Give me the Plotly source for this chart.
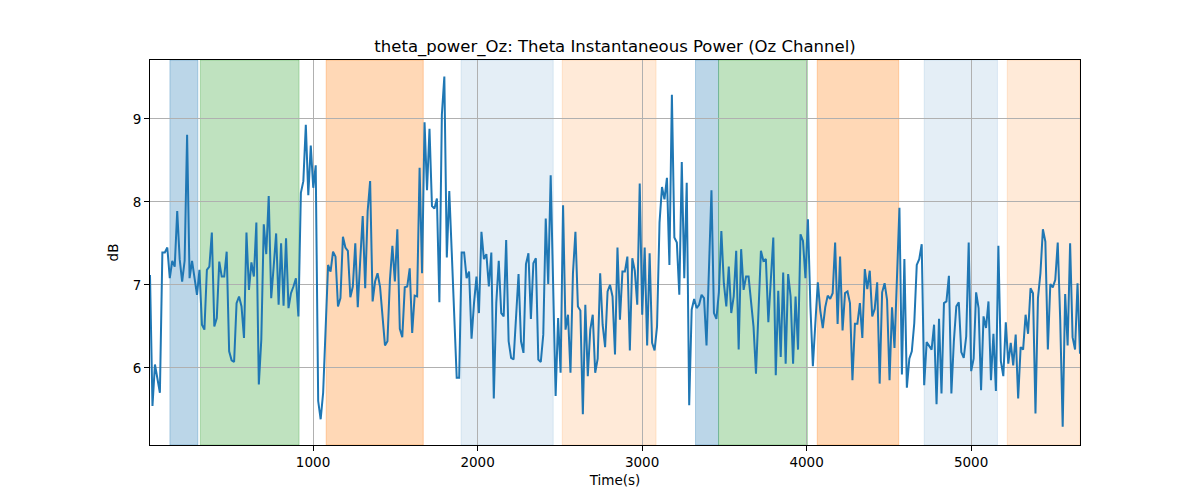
import numpy as np
import plotly.graph_objects as go

title = "theta_power_Oz: Theta Instantaneous Power (Oz Channel)"

t_start, t_end = 9, 5662

power_db = [
    7.12, 5.54, 6.04, 5.86, 5.70, 7.39, 7.39, 7.45, 7.08, 7.29, 7.22, 7.89, 7.31,
    7.04, 7.29, 8.81, 7.08, 7.29, 7.06, 6.88, 7.18, 6.52, 6.46, 7.18, 7.22, 7.63, 6.50, 6.60,
    7.28, 7.10, 7.10, 7.40, 6.20, 6.09, 6.07, 6.78, 6.86, 6.74, 6.36, 7.63, 6.94, 7.27, 7.10, 7.75,
    5.80, 6.34, 7.73, 7.37, 8.07,
    6.84, 7.22, 7.62, 6.76, 7.50, 6.75, 7.56, 6.72, 6.90, 6.98, 7.08, 6.62, 8.11, 8.25, 8.93, 8.08,
    8.68, 8.17, 8.44, 5.60, 5.38, 5.70, 6.50, 7.24, 7.16, 7.40, 7.34, 6.74, 6.84, 7.58, 7.45, 7.41,
    6.85, 6.98, 7.50, 6.73, 7.30, 7.83, 6.96, 7.89, 8.25, 6.80, 7.04, 7.14, 6.98, 6.66, 6.27,
    6.32, 7.06, 7.47, 7.04, 7.67, 6.47, 6.37, 6.97, 6.98, 7.20, 6.42, 6.87, 6.86, 8.41, 7.14, 8.96,
    8.14, 8.88, 7.95, 7.92, 8.04, 6.79, 9.05, 9.51, 7.33, 8.13, 7.39, 6.62, 5.88, 5.88, 7.39, 7.39,
    7.08, 7.16, 6.35, 6.78, 7.10, 6.66, 7.64, 7.31, 7.37, 6.98, 7.39, 5.63, 6.78, 7.29, 6.66,
    6.62, 7.54, 6.32, 6.12, 6.10, 6.66, 7.13, 6.32, 6.18, 7.25, 7.38, 6.59, 7.26, 7.32, 6.10, 6.07,
    6.40, 7.80, 7.01, 8.32, 6.98, 5.66, 6.60, 5.94, 7.96, 6.46, 6.64, 5.94, 7.14, 7.64, 6.74, 6.69,
    5.44, 6.76, 5.90, 6.46, 6.64, 5.94, 6.11, 7.14, 6.52, 6.25, 6.92, 7.00, 6.86, 6.16, 7.45,
    6.58, 7.16, 7.16, 7.34, 6.21, 7.32, 7.17, 6.76, 8.22, 6.64, 7.45, 6.27, 7.38, 6.30, 6.21, 6.50,
    7.75, 8.18, 8.03, 8.29, 7.24, 9.29, 7.57, 7.51, 6.88, 8.48, 7.08, 8.23, 5.55, 6.70, 6.83, 6.72,
    6.76, 6.88, 6.84, 6.27, 7.31, 8.14, 6.66, 6.59, 6.91, 7.65, 7.02, 6.74, 7.22, 6.66, 6.86, 7.41,
    6.22, 7.43, 6.94, 7.10, 7.10, 6.76, 6.50, 5.93, 6.70, 7.41, 7.29, 7.31, 6.55, 7.14, 7.57, 5.91,
    6.93, 6.13, 7.15, 6.05, 7.13, 6.86, 6.05, 6.86, 6.22, 7.61, 7.53, 7.08, 7.79, 6.74, 6.02, 6.54,
    7.03, 6.69, 6.48, 6.73, 6.87, 6.83, 6.90, 7.51, 6.53, 7.34, 6.45, 6.90, 6.92, 6.78, 5.85,
    6.53, 6.53, 6.78, 6.36, 7.19, 6.95, 7.17, 6.62, 6.71, 7.03, 5.81, 6.91, 7.02, 6.82, 5.85, 6.73,
    6.24, 7.10, 7.93, 5.92, 7.31, 5.76, 6.11, 6.20, 6.54, 7.24, 7.31, 7.49, 5.79, 6.31, 6.27, 6.22,
    6.52, 5.56, 6.59, 5.69, 6.78, 6.80, 7.11, 5.69, 6.32, 6.74, 6.79, 6.19, 6.12, 6.38, 7.51,
    5.96, 6.11, 6.91, 6.72, 5.73, 6.62, 6.48, 6.80, 5.85, 6.41, 5.72, 7.47, 6.08, 5.90, 6.55, 6.05,
    6.30, 6.03, 6.40, 5.63, 6.25, 6.22, 6.64, 6.41, 6.96, 6.90, 5.45, 6.84, 7.14, 7.67, 7.52, 6.22,
    7.01, 6.97, 7.06, 7.51, 6.58, 5.29, 6.89, 6.27, 7.50, 6.37, 6.22, 7.02, 6.17,
]

time_s = np.linspace(t_start, t_end, len(power_db))

# shaded segments: (start, end, colour)
seg_start = [130, 315, 1080, 1900, 2515, 3325, 3465, 4065, 4715, 5220]
seg_end = [300, 915, 1670, 2460, 3085, 3465, 4005, 4560, 5160, 5662]
seg_color = [
    "rgba(31,119,180,0.3)", "rgba(44,160,44,0.3)", "rgba(255,127,14,0.3)",
    "rgba(31,119,180,0.12)", "rgba(255,127,14,0.16)",
    "rgba(31,119,180,0.3)", "rgba(44,160,44,0.3)", "rgba(255,127,14,0.3)",
    "rgba(31,119,180,0.12)", "rgba(255,127,14,0.16)",
]

x_ticks = [1000, 2000, 3000, 4000, 5000]
y_ticks = [6, 7, 8, 9]

fig = go.Figure()
fig.add_trace(go.Scatter(x=time_s, y=power_db, mode="lines",
                         line=dict(color="#1f77b4", width=2), showlegend=False))

for s, e, c in zip(seg_start, seg_end, seg_color):
    fig.add_vrect(x0=s, x1=e, fillcolor=c, line=dict(color=c, width=1), layer="below")

font = "DejaVu Sans, sans-serif"
fig.update_layout(
    width=1200, height=500,
    margin=dict(l=150, r=120, t=60, b=55),
    paper_bgcolor="white", plot_bgcolor="white",
    font=dict(family=font, size=14, color="black"),
    title=dict(text=title, x=0.5125, xanchor="center", y=0.908, yanchor="middle",
               font=dict(family=font, size=16.5, color="black")),
)
fig.update_xaxes(
    range=[t_start, t_end], tickvals=x_ticks, ticks="outside", ticklen=5, tickwidth=1,
    tickcolor="black", showline=True, linecolor="black", linewidth=1, mirror=True,
    showgrid=True, gridcolor="#b0b0b0", gridwidth=1, zeroline=False,
    tickfont=dict(size=13.5), title=dict(text="Time(s)", font=dict(size=13.5), standoff=6),
)
fig.update_yaxes(
    range=[5.07, 9.71], tickvals=y_ticks, ticks="outside", ticklen=5, tickwidth=1,
    tickcolor="black", showline=True, linecolor="black", linewidth=1, mirror=True,
    showgrid=True, gridcolor="#b0b0b0", gridwidth=1, zeroline=False,
    tickfont=dict(size=13.5), title=dict(text="dB", font=dict(size=13.5), standoff=10),
)

fig.write_html("out.html")
